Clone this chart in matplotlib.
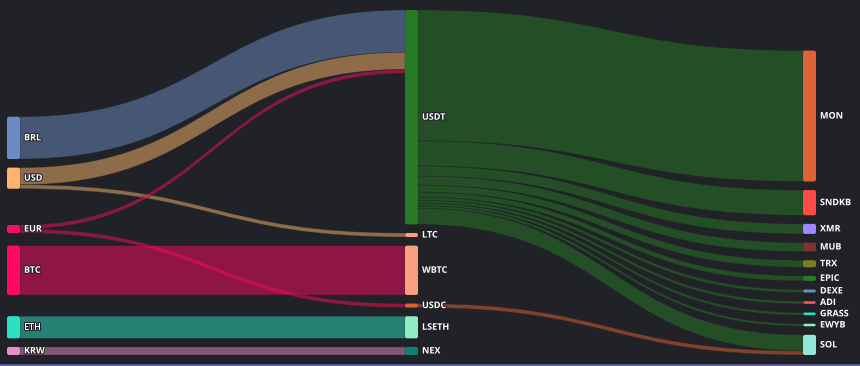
import matplotlib
matplotlib.use("Agg")
import matplotlib.pyplot as plt
from matplotlib.patches import PathPatch, FancyBboxPatch
from matplotlib.path import Path
import matplotlib.patheffects as pe

# node names and colours
nodes = ["BRL", "USD", "EUR", "BTC", "ETH", "KRW",
         "USDT", "LTC", "WBTC", "USDC", "LSETH", "NEX",
         "MON", "SNDKB", "XMR", "MUB", "TRX", "EPIC", "DEXE", "ADI", "GRASS", "EWYB", "SOL"]
node_colors = ["#6b8cc3", "#fdb46c", "#f5105e", "#ff0a62", "#2de0c4", "#e58fcb",
               "#267a26", "#f7a07f", "#f7a07f", "#e0622e", "#93ecc0", "#108070",
               "#df6236", "#ff4a48", "#9b87ff", "#7a3434", "#7d7a28", "#267a26",
               "#6b8cc3", "#ff4a48", "#2de0c4", "#93ecc0", "#93e8dc"]

# links
sources = ["BRL", "USD", "USD", "EUR", "EUR", "BTC", "ETH", "KRW",
           "USDT", "USDT", "USDT", "USDT", "USDT", "USDT", "USDT", "USDT", "USDT", "USDT", "USDT",
           "USDC"]
targets = ["USDT", "USDT", "LTC", "USDT", "USDC", "WBTC", "LSETH", "NEX",
           "MON", "SNDKB", "XMR", "MUB", "TRX", "EPIC", "DEXE", "ADI", "GRASS", "EWYB", "SOL",
           "SOL"]
values = [42, 17, 4, 4, 4, 49, 22, 8,
          130, 25, 10, 9, 7, 5, 3, 2.8, 2.6, 2.5, 16,
          4]

bg = "#202227"
W, H = 860, 366
X0, X1, Y0, Y1 = 7, 816, 10, 355
node_w = 13
pad = 8.6
iterations = 100

# ---- layout (d3-sankey style) ----
N = {n: {"name": n, "color": c, "src": [], "tgt": []} for n, c in zip(nodes, node_colors)}
links = []
for s, t, v in zip(sources, targets, values):
    l = {"s": N[s], "t": N[t], "v": v}
    links.append(l)
    N[s]["src"].append(l)
    N[t]["tgt"].append(l)

for n in N.values():
    n["value"] = max(sum(l["v"] for l in n["src"]), sum(l["v"] for l in n["tgt"]))

# depth
for n in N.values():
    n["depth"] = 0
changed = True
while changed:
    changed = False
    for l in links:
        if l["t"]["depth"] < l["s"]["depth"] + 1:
            l["t"]["depth"] = l["s"]["depth"] + 1
            changed = True
ncol = max(n["depth"] for n in N.values()) + 1
kx = (X1 - X0 - node_w) / (ncol - 1)
columns = [[N[nm] for nm in nodes if N[nm]["depth"] == d] for d in range(ncol)]
for col in columns:
    for n in col:
        n["x0"] = X0 + n["depth"] * kx
        n["x1"] = n["x0"] + node_w

ky = min((Y1 - Y0 - (len(c) - 1) * pad) / sum(n["value"] for n in c) for c in columns)
for col in columns:
    for i, n in enumerate(col):
        n["y0"] = i
        n["y1"] = i + n["value"] * ky
for l in links:
    l["w"] = l["v"] * ky


def center(n):
    return (n["y0"] + n["y1"]) / 2


def resolve():
    for col in columns:
        col.sort(key=lambda n: n["y0"])
        y = Y0
        for n in col:
            dy = y - n["y0"]
            if dy > 0:
                n["y0"] += dy
                n["y1"] += dy
            y = n["y1"] + pad
        dy = y - pad - Y1
        if dy > 0:
            n = col[-1]
            n["y0"] -= dy
            n["y1"] -= dy
            y = n["y0"]
            for n in reversed(col[:-1]):
                dy = n["y1"] + pad - y
                if dy > 0:
                    n["y0"] -= dy
                    n["y1"] -= dy
                y = n["y0"]


resolve()
alpha = 1.0
for it in range(iterations):
    alpha *= 0.99
    for col in reversed(columns):
        for n in col:
            if n["src"]:
                c = sum(center(l["t"]) * l["v"] for l in n["src"]) / sum(l["v"] for l in n["src"])
                dy = (c - center(n)) * alpha
                n["y0"] += dy
                n["y1"] += dy
    resolve()
    for col in columns:
        for n in col:
            if n["tgt"]:
                c = sum(center(l["s"]) * l["v"] for l in n["tgt"]) / sum(l["v"] for l in n["tgt"])
                dy = (c - center(n)) * alpha
                n["y0"] += dy
                n["y1"] += dy
    resolve()

for n in N.values():
    n["src"].sort(key=lambda l: l["t"]["y0"])
    n["tgt"].sort(key=lambda l: l["s"]["y0"])
    y = n["y0"]
    for l in n["src"]:
        l["ys"] = y
        y += l["w"]
    y = n["y0"]
    for l in n["tgt"]:
        l["yt"] = y
        y += l["w"]

# ---- draw ----
fig = plt.figure(figsize=(W / 100, H / 100), dpi=100, facecolor=bg)
ax = fig.add_axes([0, 0, 1, 1])
ax.set_facecolor(bg)
ax.set_xlim(0, W)
ax.set_ylim(H, 0)
ax.axis("off")

for l in links:
    xa = l["s"]["x1"]
    xb = l["t"]["x0"]
    xm = (xa + xb) / 2
    ya, yb, w = l["ys"], l["yt"], l["w"]
    verts = [(xa, ya), (xm, ya), (xm, yb), (xb, yb),
             (xb, yb + w), (xm, yb + w), (xm, ya + w), (xa, ya + w), (xa, ya)]
    codes = [Path.MOVETO, Path.CURVE4, Path.CURVE4, Path.CURVE4,
             Path.LINETO, Path.CURVE4, Path.CURVE4, Path.CURVE4, Path.CLOSEPOLY]
    ax.add_patch(PathPatch(Path(verts, codes), facecolor=l["s"]["color"], alpha=0.5,
                           edgecolor=bg, lw=0.5))

for n in N.values():
    ax.add_patch(FancyBboxPatch((n["x0"], n["y0"]), node_w, n["y1"] - n["y0"],
                                boxstyle="round,pad=0,rounding_size=2",
                                facecolor=n["color"], edgecolor="none"))
    ax.text(n["x1"] + 4, center(n), n["name"], color="white", fontsize=6.5,
            fontweight="bold", family="Open Sans", va="center", ha="left",
            path_effects=[pe.withStroke(linewidth=1.5, foreground=bg)])

ax.axhline(H - 1, color="#5c5fa8", lw=2)

fig.savefig("out.png", dpi=100, facecolor=bg)
